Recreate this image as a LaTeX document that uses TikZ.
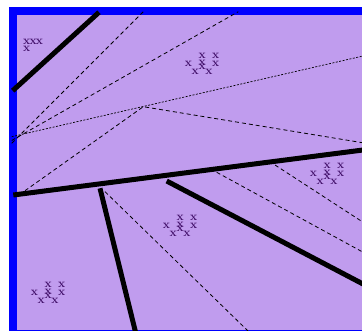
\documentclass[tikz,border=0pt]{standalone}
\usepackage{tikz}

\definecolor{roomfill}{RGB}{192,156,238}
\definecolor{zoneink}{RGB}{65,15,105}

% zone marks
\newcommand{\cornermark}{\rlap{\raisebox{-7pt}{x}}x\kern-0.8pt x\kern-0.8pt x}
\newcommand{\zonemark}{x\kern-0.3pt\raisebox{-8pt}{x}\kern-0.3pt\rlap{\raisebox{8pt}{x}}\rlap{\raisebox{1pt}{x}}\raisebox{-3pt}{x}\kern-0.3pt\raisebox{-8pt}{x}\kern-0.3pt\rlap{\raisebox{8pt}{x}}x}

\begin{document}
\begin{tikzpicture}[x=1pt, y=-1pt,
    wall/.style={line width=5pt, black},
    ray/.style={line width=0.8pt, dash pattern=on 4pt off 3pt},
    fineray/.style={line width=0.7pt, dash pattern=on 2pt off 1.5pt},
    zone/.style={font=\fontsize{12}{12}\selectfont\bfseries, text=zoneink, inner sep=0pt, anchor=base west}
]
\useasboundingbox (0,0) rectangle (362,331);
\clip (0,0) rectangle (362,331);

% Room
\draw[blue, line width=8pt, fill=roomfill] (13,11) rectangle (366,334);

% Points
\coordinate (wa1) at (12.7,90.7);
\coordinate (wa2) at (99,12.3);
\coordinate (wb1) at (13.3,195);
\coordinate (wb2) at (363,150);
\coordinate (wc1) at (100,188.3);
\coordinate (wc2) at (135.5,332);
\coordinate (wd1) at (166.7,181);
\coordinate (wd2) at (363,284);
\coordinate (src) at (11.7,143.3);
\coordinate (src2) at (11.7,140.5);
\coordinate (src3) at (11.7,136.7);
\coordinate (bend) at (143.3,106.7);

% Rays
\draw[ray] (src) -- (143.3,11.7);
\draw[ray] (src2) -- (238.3,11.7);
\draw[fineray] (src3) -- (363,56);
\draw[ray] (25,190.7) -- (bend) -- (363,142.8);
\draw[ray] (105,191.7) -- (248,331);
\draw[ray] (216.7,172.3) -- (363,252.2);
\draw[ray] (275,165) -- (363,222.2);

% Walls
\draw[wall] (wa1) -- (wa2);
\draw[wall] (wb1) -- (wb2);
\draw[wall] (wc1) -- (wc2);
\draw[wall] (wd1) -- (wd2);

% Zone marks
\node[zone] (zoneA) at (23.05,44.95) {\cornermark};
\node[zone] (zoneB) at (184.65,66.15) {\zonemark};
\node[zone] (zoneC) at (309.65,176.65) {\zonemark};
\node[zone] (zoneD) at (162.65,228.15) {\zonemark};
\node[zone] (zoneE) at (30.65,295.35) {\zonemark};

\end{tikzpicture}
\end{document}
